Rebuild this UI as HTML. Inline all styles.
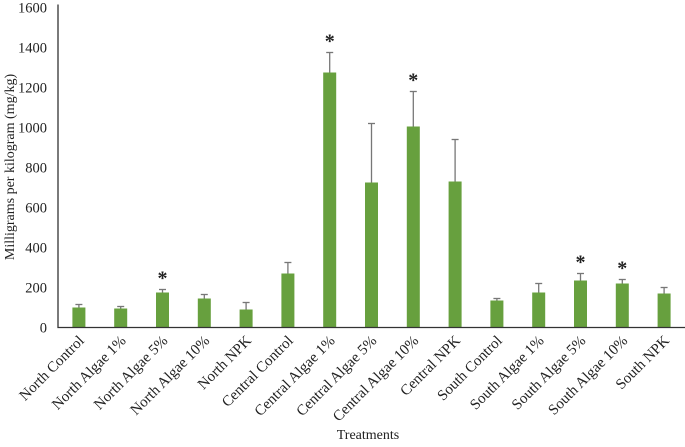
<!DOCTYPE html>
<html><head><meta charset="utf-8"><style>
body{margin:0;background:#fff}
text{font-family:"Liberation Serif",serif;fill:#222}
</style></head><body>
<svg id="c" width="685" height="442"></svg>
<script>
const categories=["North Control","North Algae 1%","North Algae 5%","North Algae 10%","North NPK","Central Control","Central Algae 1%","Central Algae 5%","Central Algae 10%","Central NPK","South Control","South Algae 1%","South Algae 5%","South Algae 10%","South NPK"];
const values=[100,95,175,145,90,270,1275,725,1005,730,135,175,235,220,170];
const errTop=[115,105,190,165,125,325,1375,1020,1180,940,145,220,270,240,200];
const significant=[0,0,1,0,0,0,1,0,1,0,0,0,1,1,0];
const yTicks=[0,200,400,600,800,1000,1200,1400,1600];
const svg=document.getElementById('c');const NS="http://www.w3.org/2000/svg";
const x0=58,x1=685,y0=327.5,yMax=1600,yTopPx=7.5;
const bw=(x1-x0)/categories.length;
const X=i=>x0+bw*(i+0.5);
const Y=v=>y0-(v/yMax)*(y0-yTopPx);
function mk(t,a,p){const e=document.createElementNS(NS,t);for(const k in a)e.setAttribute(k,a[k]);(p||svg).appendChild(e);return e;}
yTicks.forEach(v=>{const t=mk('text',{x:x0-11,y:Y(v)+5,'text-anchor':'end','font-size':'14.5'});t.textContent=v;

});
categories.forEach((c,i)=>{
const cx=X(i);
const eb=mk('line',{x1:cx,x2:cx,y1:Y(values[i]),y2:Y(errTop[i]),stroke:'#777','stroke-width':'1.3'});


const cap=mk('line',{x1:cx-3.5,x2:cx+3.5,y1:Y(errTop[i]),y2:Y(errTop[i]),stroke:'#777','stroke-width':'1.3'});


const r=mk('rect',{x:cx-6.5,y:Y(values[i]),width:13,height:y0-Y(values[i]),fill:'#67a03e'});


if(significant[i]){const s=mk('text',{x:cx,y:Y(errTop[i])-5,'text-anchor':'middle','font-size':'20','font-weight':'bold'});s.textContent='*';

}
const l=mk('text',{x:0,y:0,'text-anchor':'end','font-size':'15',transform:`translate(${cx+6},${y0+14}) rotate(-45)`});l.textContent=c;


});
const ax=mk('path',{d:`M${x0},${yTopPx-3} V${y0} H${x1}`,stroke:'#333','stroke-width':'1.3',fill:'none'});


const yt=mk('text',{x:0,y:0,'text-anchor':'middle','font-size':'14','font-weight':'normal',transform:`translate(14,167) rotate(-90)`});yt.textContent='Milligrams per kilogram (mg/kg)';


const xt=mk('text',{x:368,y:439,'text-anchor':'middle','font-size':'14'});xt.textContent='Treatments';


</script>
</body></html>
